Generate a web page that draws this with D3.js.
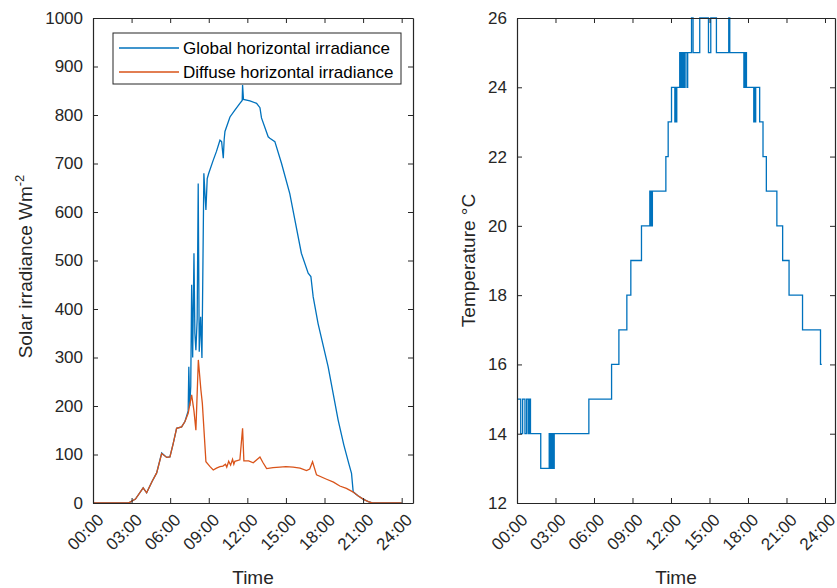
<!DOCTYPE html>
<html>
<head>
<meta charset="utf-8">
<script src="https://cdn.jsdelivr.net/npm/d3@7"></script>
<style>
  body { margin: 0; background: #fff; }
  svg { display: block; font-family: "Liberation Sans", Arial, Helvetica, sans-serif; }
  .axis path, .axis line { stroke: #262626; }
  .axis text { fill: #262626; font-size: 17px; }
</style>
</head>
<body>
<svg width="837" height="588"></svg>
<script>
// time in hours of day
var timeTicks = [0, 3, 6, 9, 12, 15, 18, 21, 24];
var irrTicks = [0, 100, 200, 300, 400, 500, 600, 700, 800, 900, 1000];
var tempTicks = [12, 14, 16, 18, 20, 22, 24, 26];

// global horizontal irradiance (W/m2)
var ghiTime = [0, 2.75, 3.3, 3.9, 4.17, 4.6, 4.95, 5.34, 5.73, 5.98, 6.24, 6.5, 6.89, 7.15,
  7.4, 7.45, 7.52, 7.6, 7.67, 7.75, 7.85, 7.92, 8.0, 8.1, 8.18, 8.26, 8.37, 8.47, 8.55, 8.62,
  8.72, 8.78, 8.88, 9.0, 9.35, 9.6, 9.87, 10.0, 10.13, 10.2, 10.26, 10.65, 11.03, 11.42,
  11.6, 11.63, 11.7, 12.2, 12.72, 12.98, 13.1, 13.62, 13.75, 14.14, 14.66, 15.3, 15.7, 16.2,
  16.73, 16.94, 17.12, 17.5, 18.28, 19.06, 19.5, 19.9, 20.1, 20.23, 20.6, 21.0, 21.4, 21.78, 24.0];
var ghiValue = [0, 0, 8, 31, 21, 45, 62, 103, 94, 95, 123, 154, 157, 168,
  190, 281, 200, 240, 450, 300, 515, 350, 315, 380, 659, 312, 384, 299, 500, 680,
  630, 604, 669, 680, 707, 725, 748, 745, 711, 750, 766, 796, 810, 824,
  830, 862, 832, 829, 824, 815, 794, 755, 752, 745, 700, 638, 583, 515,
  474, 467, 425, 370, 281, 171, 120, 80, 61, 23, 15, 8, 3, 0, 0];

// diffuse horizontal irradiance (W/m2)
var dhiTime = [0, 2.75, 3.3, 3.9, 4.17, 4.6, 4.95, 5.34, 5.73, 5.98, 6.24, 6.5, 6.89, 7.15,
  7.4, 7.67, 7.85, 8.0, 8.19, 8.39, 8.5, 8.78, 9.1, 9.35, 9.6, 9.87, 10.1, 10.3, 10.4, 10.55,
  10.7, 10.85, 10.95, 11.03, 11.42, 11.63, 11.73, 12.1, 12.46, 12.98, 13.2, 13.5, 14.0, 14.53,
  15.0, 15.56, 16.1, 16.6, 16.85, 17.07, 17.38, 18.16, 18.7, 19.19, 19.7, 20.2, 20.6, 21.0,
  21.4, 21.78, 24.0];
var dhiValue = [0, 0, 8, 31, 21, 45, 62, 102, 94, 95, 123, 154, 157, 168,
  185, 223, 190, 150, 295, 233, 206, 85, 75, 68, 72, 75, 76, 80, 74, 86,
  78, 90, 80, 86, 89, 154, 87, 87, 83, 95, 84, 71, 73, 74,
  75, 74, 72, 67, 70, 85, 58, 49, 43, 35, 30, 23, 15, 8,
  3, 0, 0];

// air temperature (degC), value holds from each time to the next
var tempTime = [0, 0.29, 0.44, 0.62, 0.75, 0.88, 0.98, 1.05, 1.1, 1.85, 2.51, 2.56, 2.62, 2.68,
  2.75, 2.83, 2.9, 2.96, 5.6, 7.37, 7.94, 8.56, 8.87, 9.7, 10.35, 10.42, 10.47, 10.5, 10.55,
  11.6, 11.78, 12.04, 12.3, 12.35, 12.4, 12.45, 12.68, 12.75, 12.8, 12.9, 12.95, 13.05, 13.1,
  13.25, 13.3, 13.6, 13.72, 14.24, 14.92, 15.1, 15.54, 16.5, 16.58, 17.68, 17.72, 17.78,
  17.82, 17.88, 18.45, 18.5, 18.55, 18.6, 18.91, 19.17, 19.43, 20.25, 20.7, 21.2, 22.25,
  23.65, 23.75];
var tempValue = [15, 14, 15, 14, 15, 14, 15, 14, 14, 13, 14, 13, 14, 13,
  14, 13, 14, 14, 15, 16, 17, 18, 19, 20, 21, 20, 21, 20, 21,
  22, 23, 24, 23, 24, 23, 24, 25, 24, 25, 24, 25, 24, 25,
  24, 25, 26, 25, 26, 25, 26, 25, 26, 25, 24, 25, 24,
  25, 24, 23, 24, 23, 24, 23, 22, 21, 20, 19, 18, 17,
  16, 16];

var seriesNames = ["Global horizontal irradiance", "Diffuse horizontal irradiance"];
var colors = ["#0072BD", "#D95319"];

var svg = d3.select("svg");

function hhmm(h) {
    return (h < 10 ? "0" : "") + h + ":00";
}

function drawFrame(box, x, y, yTicks) {
    var g = svg.append("g");

    g.append("g").attr("class", "axis")
        .attr("transform", "translate(0," + box.y1 + ")")
        .call(d3.axisBottom(x).tickValues(timeTicks).tickSizeInner(-5).tickSizeOuter(0)
            .tickPadding(8).tickFormat(hhmm))
        .selectAll("text")
        .attr("text-anchor", "end")
        .attr("dy", "0.7em")
        .attr("transform", "translate(-3,4) rotate(-45)");

    g.append("g").attr("class", "axis")
        .attr("transform", "translate(0," + box.y0 + ")")
        .call(d3.axisTop(x).tickValues(timeTicks).tickSizeInner(-5).tickSizeOuter(0).tickFormat(""));

    g.append("g").attr("class", "axis")
        .attr("transform", "translate(" + box.x0 + ",0)")
        .call(d3.axisLeft(y).tickValues(yTicks).tickSizeInner(-5).tickSizeOuter(0)
            .tickPadding(10).tickFormat(d3.format("d")));

    g.append("g").attr("class", "axis")
        .attr("transform", "translate(" + box.x1 + ",0)")
        .call(d3.axisRight(y).tickValues(yTicks).tickSizeInner(-5).tickSizeOuter(0).tickFormat(""));

    g.selectAll(".axis path").attr("stroke-width", 1.2);

    g.append("text")
        .attr("x", (box.x0 + box.x1) / 2)
        .attr("y", 584)
        .attr("text-anchor", "middle")
        .attr("fill", "#262626")
        .style("font-size", "19px")
        .text("Time");
    return g;
}

// left panel: irradiance
var boxL = {x0: 93, x1: 413, y0: 18, y1: 503};
var xL = d3.scaleLinear().domain([0, 24.88]).range([boxL.x0, boxL.x1]);
var yL = d3.scaleLinear().domain([0, 1000]).range([boxL.y1, boxL.y0]);

var lineL = d3.line()
    .x(function(d) { return xL(d[0]); })
    .y(function(d) { return yL(d[1]); });

var ghi = d3.zip(ghiTime, ghiValue);
var dhi = d3.zip(dhiTime, dhiValue);

svg.append("path").datum(ghi)
    .attr("d", lineL)
    .attr("fill", "none")
    .attr("stroke", colors[0])
    .attr("stroke-width", 1.3);

svg.append("path").datum(dhi)
    .attr("d", lineL)
    .attr("fill", "none")
    .attr("stroke", colors[1])
    .attr("stroke-width", 1.3);

drawFrame(boxL, xL, yL, irrTicks);

var yLabL = svg.append("text")
    .attr("transform", "translate(32," + ((boxL.y0 + boxL.y1) / 2 + 6) + ") rotate(-90)")
    .attr("text-anchor", "middle")
    .attr("fill", "#262626")
    .style("font-size", "19px");
yLabL.append("tspan").text("Solar irradiance Wm");
yLabL.append("tspan").attr("dy", -8).style("font-size", "13px").text("-2");

// legend
var legend = svg.append("g").attr("transform", "translate(113,33)");
legend.append("rect")
    .attr("width", 288).attr("height", 51)
    .attr("fill", "#fff")
    .attr("stroke", "#262626")
    .attr("stroke-width", 1);
var items = legend.selectAll(".item")
    .data(seriesNames)
    .enter().append("g")
    .attr("class", "item")
    .attr("transform", function(d, i) { return "translate(0," + (15 + i * 24) + ")"; });
items.append("line")
    .attr("x1", 6).attr("x2", 66)
    .attr("stroke", function(d, i) { return colors[i]; })
    .attr("stroke-width", 1.3);
items.append("text")
    .attr("x", 70).attr("dy", "0.35em")
    .attr("fill", "#000")
    .style("font-size", "17px")
    .text(function(d) { return d; });

// right panel: temperature
var boxR = {x0: 517, x1: 835, y0: 18, y1: 503};
var xR = d3.scaleLinear().domain([0, 24.78]).range([boxR.x0, boxR.x1]);
var yR = d3.scaleLinear().domain([12, 26]).range([boxR.y1, boxR.y0]);

var lineR = d3.line()
    .curve(d3.curveStepAfter)
    .x(function(d) { return xR(d[0]); })
    .y(function(d) { return yR(d[1]); });

svg.append("path").datum(d3.zip(tempTime, tempValue))
    .attr("d", lineR)
    .attr("fill", "none")
    .attr("stroke", colors[0])
    .attr("stroke-width", 1.3);

drawFrame(boxR, xR, yR, tempTicks);

svg.append("text")
    .attr("transform", "translate(475," + (boxR.y0 + boxR.y1) / 2 + ") rotate(-90)")
    .attr("text-anchor", "middle")
    .attr("fill", "#262626")
    .style("font-size", "19px")
    .text("Temperature \u00b0C");
</script>
</body>
</html>
